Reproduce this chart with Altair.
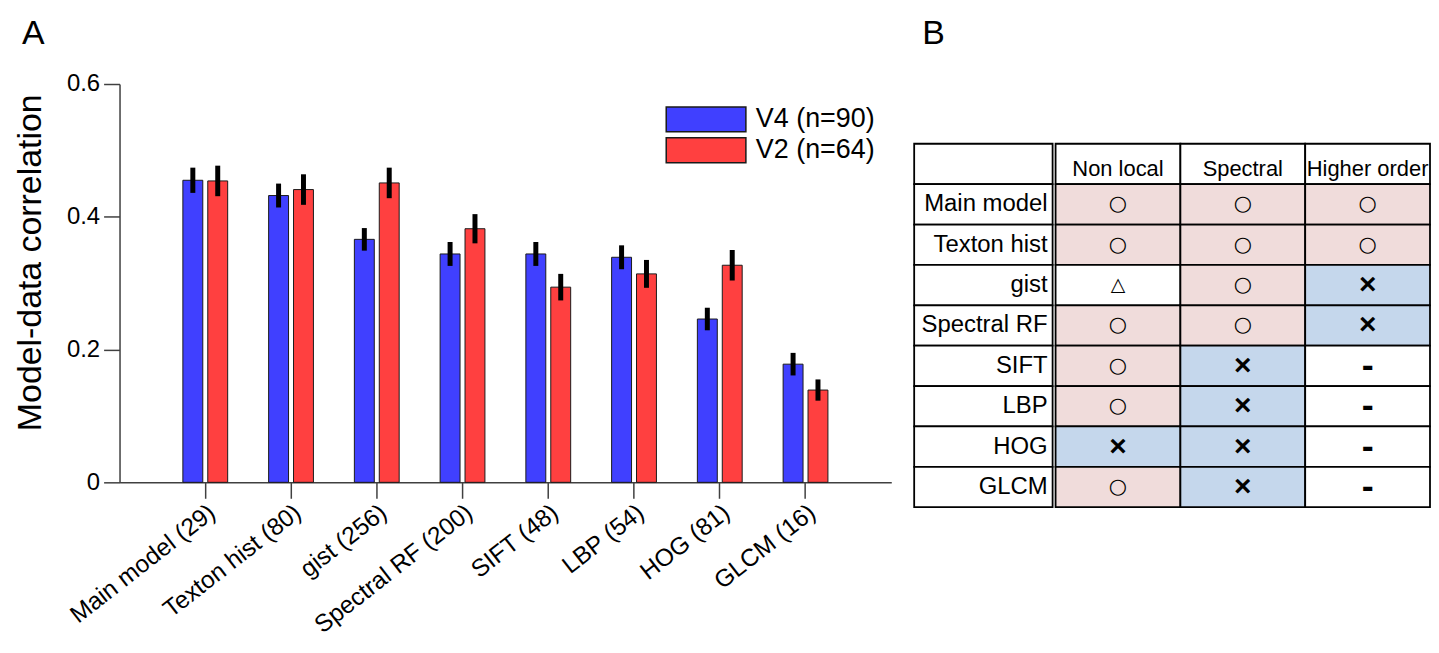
import altair as alt
import pandas as pd

# ---------------- data ----------------
models = ["Main model (29)", "Texton hist (80)", "gist (256)", "Spectral RF (200)",
          "SIFT (48)", "LBP (54)", "HOG (81)", "GLCM (16)"]
series = ["V4 (n=90)", "V2 (n=64)"]
v4_mean = [0.455, 0.432, 0.366, 0.344, 0.344, 0.339, 0.246, 0.178]
v4_err = [0.019, 0.018, 0.017, 0.018, 0.018, 0.018, 0.017, 0.017]
v2_mean = [0.454, 0.441, 0.451, 0.382, 0.294, 0.314, 0.327, 0.139]
v2_err = [0.023, 0.023, 0.023, 0.022, 0.020, 0.021, 0.023, 0.016]
y_ticks = [0, 0.2, 0.4, 0.6]

table_rows = ["Main model", "Texton hist", "gist", "Spectral RF", "SIFT", "LBP", "HOG", "GLCM"]
table_cols = ["Non local", "Spectral", "Higher order"]
nonlocal_marks = ["○", "○", "△", "○", "○", "○", "×", "○"]
spectral_marks = ["○", "○", "○", "○", "×", "×", "×", "×"]
higher_marks = ["○", "○", "×", "×", "-", "-", "-", "-"]

# ---------------- tables for the library ----------------
bar_records = []
for i, m in enumerate(models):
    for s, mean, err in ((series[0], v4_mean, v4_err), (series[1], v2_mean, v2_err)):
        bar_records.append({"model": m, "series": s, "value": mean[i],
                            "lo": mean[i] - err[i], "hi": mean[i] + err[i]})
bar_df = pd.DataFrame(bar_records)

row_domain = ["header"] + table_rows
label_df = pd.DataFrame({"row": row_domain, "label": [""] + table_rows, "col": "c"})

kind_of = {"○": "yes", "×": "no", "△": "na", "-": "na"}
cell_records = []
for c in table_cols:
    cell_records.append({"row": "header", "col": c, "sym": c, "kind": "na"})
for c, marks in zip(table_cols, (nonlocal_marks, spectral_marks, higher_marks)):
    for r, s in zip(table_rows, marks):
        cell_records.append({"row": r, "col": c, "sym": s, "kind": kind_of[s]})
cell_df = pd.DataFrame(cell_records)

FONT = "Liberation Sans"
AX = "#404040"

# ---------------- panel A: bar chart ----------------
x_scale = alt.Scale(paddingInner=0.4774, paddingOuter=0.7387)
off_scale = alt.Scale(paddingInner=0.2, paddingOuter=0)
x_axis = alt.Axis(labelAngle=-38, labelFontSize=24.5, labelFont=FONT, labelColor="black",
                  tickSize=16, tickColor=AX, tickWidth=1.5, domainColor=AX, domainWidth=1.5,
                  labelLimit=400, labelPadding=2, title=None)
y_axis = alt.Axis(values=y_ticks,
                  labelExpr="datum.value == 0 ? '0' : format(datum.value, '.1f')",
                  labelFontSize=24, labelFont=FONT, labelColor="black", labelPadding=4,
                  tickSize=16, tickColor=AX, tickWidth=1.5, domainColor=AX, domainWidth=1.5,
                  grid=False, title="Model-data correlation", titleFontSize=34,
                  titleFont=FONT, titleFontWeight="normal", titleColor="black",
                  titlePadding=19, titleY=179)

base = alt.Chart(bar_df)
bars = base.mark_bar(stroke="#1a1a1a", strokeWidth=1, opacity=1).encode(
    x=alt.X("model:N", sort=models, scale=x_scale, axis=x_axis),
    xOffset=alt.XOffset("series:N", sort=series, scale=off_scale),
    y=alt.Y("value:Q", scale=alt.Scale(domain=[0, 0.6], nice=False), axis=y_axis),
    color=alt.Color("series:N", sort=series,
                    scale=alt.Scale(domain=series, range=["#4040FF", "#FF4040"]),
                    legend=alt.Legend(title=None, orient="none", legendX=548, legendY=22,
                                      symbolType="M-1,-1H5.4V1H-1Z", symbolSize=625,
                                      symbolStrokeColor="#1a1a1a", symbolStrokeWidth=1.5,
                                      symbolOpacity=1, labelFontSize=27, labelFont=FONT,
                                      labelColor="black", labelOffset=64, rowPadding=0,
                                      padding=0)),
)
errs = base.mark_rule(strokeWidth=5, color="black").encode(
    x=alt.X("model:N", sort=models, scale=x_scale, axis=x_axis),
    xOffset=alt.XOffset("series:N", sort=series, scale=off_scale),
    y=alt.Y("lo:Q", scale=alt.Scale(domain=[0, 0.6], nice=False), axis=y_axis),
    y2="hi:Q",
)
bar_chart = alt.layer(bars, errs).properties(
    width=775, height=400,
    title=alt.TitleParams("A", anchor="start", frame="group", dx=-98, offset=-6,
                          fontSize=34, fontWeight="normal", font=FONT,
                          baseline="alphabetic", color="black"),
)

# ---------------- panel B: table ----------------
y_tab = alt.Y("row:N", sort=row_domain,
              scale=alt.Scale(domain=row_domain, range=[60, 425], paddingInner=0, paddingOuter=0),
              axis=None)
band0 = alt.Scale(paddingInner=0, paddingOuter=0)

lab_base = alt.Chart(label_df)
lab_rect = lab_base.mark_rect(fill="white", stroke="black", strokeWidth=1.8).encode(
    x=alt.X("col:N", scale=band0, axis=None), y=y_tab)
lab_text = lab_base.mark_text(align="right", baseline="middle", dx=-5, fontSize=24,
                              font=FONT, color="black").encode(
    x=alt.X("col:N", scale=band0, axis=None, bandPosition=1), y=y_tab, text="label:N")
label_chart = alt.layer(lab_rect, lab_text).properties(
    width=139, height=425,
    title=alt.TitleParams("B", anchor="start", frame="group", dx=8, offset=6.5,
                          fontSize=34, fontWeight="normal", font=FONT,
                          baseline="alphabetic", color="black"),
)

x_cols = alt.X("col:N", sort=table_cols, scale=alt.Scale(domain=table_cols, paddingInner=0,
                                                          paddingOuter=0), axis=None)
cbase = alt.Chart(cell_df)
cell_rect = cbase.mark_rect(stroke="black", strokeWidth=1.8).encode(
    x=x_cols, y=y_tab,
    fill=alt.Fill("kind:N", scale=alt.Scale(domain=["yes", "no", "na"],
                                            range=["#F0DCDB", "#C5D7EC", "#FFFFFF"]),
                  legend=None),
)


def sym_layer(cond, size, weight="normal", font=FONT, dy=0):
    return cbase.transform_filter(cond).mark_text(
        baseline="middle", align="center", fontSize=size, fontWeight=weight,
        font=font, color="black", dy=dy).encode(x=x_cols, y=y_tab, text="sym:N")


hdr = sym_layer("datum.row == 'header'", 22, dy=5)
circ = sym_layer("datum.sym == '○'", 21, font="DejaVu Sans")
tri = sym_layer("datum.sym == '△'", 19, font="DejaVu Sans")
cross = sym_layer("datum.sym == '×'", 30, weight="bold")
dash = sym_layer("datum.sym == '-'", 36, weight="bold")
data_chart = alt.layer(cell_rect, hdr, circ, tri, cross, dash).properties(width=376, height=425)

table = alt.hconcat(label_chart, data_chart, spacing=1)

chart = alt.hconcat(bar_chart, table, spacing=22).properties(
    padding={"left": 5, "top": 7, "right": 0, "bottom": 0}
).configure(font=FONT).configure_view(stroke="transparent", strokeWidth=0)

chart.save("out.html", embed_options={"renderer": "svg", "actions": False})
